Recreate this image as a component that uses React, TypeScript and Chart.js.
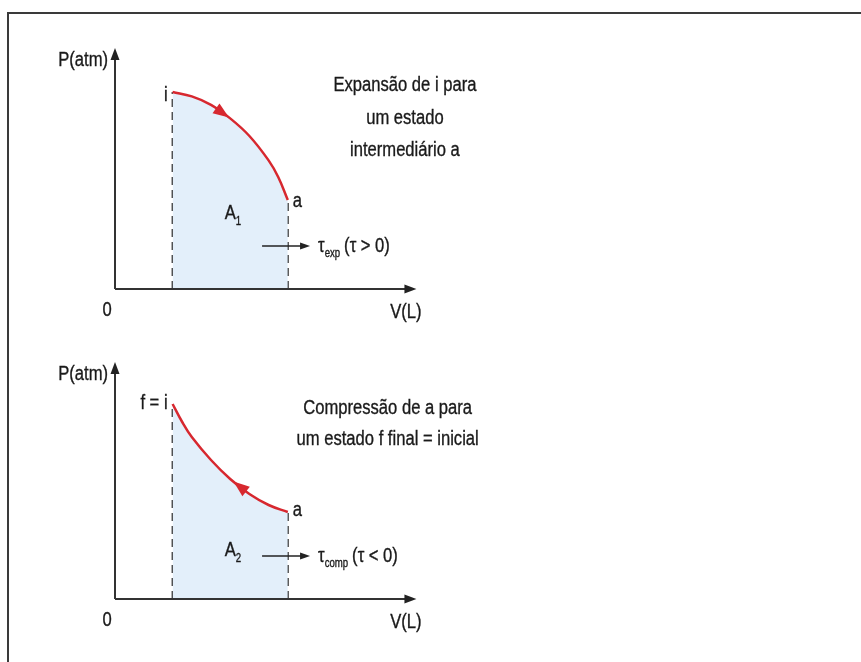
import React, { useEffect, useRef } from "react";
import { Chart, registerables } from "chart.js";

Chart.register(...registerables);

// ---- data (V in L, P in atm, arbitrary units) ----
const V_INITIAL = 3;
const V_INTERMEDIATE = 9;
const expansionV = [3, 4, 5, 6, 7, 8, 8.5, 9];
const expansionP = [9.85, 9.63, 9.21, 8.53, 7.65, 6.43, 5.6, 4.45];
const compressionV = [3, 3.5, 4, 5, 6, 7, 8, 9];
const compressionP = [9.75, 8.85, 8.1, 6.95, 6.0, 5.25, 4.7, 4.35];
const workArrowV = [7.66, 10.16];
const workArrowP = 2.15;
const topDescription = ["Expansão de i para", "um estado", "intermediário a"];
const bottomDescription = ["Compressão de a para", "um estado f final = inicial"];

const V_MAX = 16;
const P_MAX = 13;
const RED = "#d7282f";
const FILL = "#e3effa";
const INK = "#1a1a1a";
const FONT = '"Liberation Sans", Arial, sans-serif';

type Panel = {
  V: number[];
  P: number[];
  padTop: number;
  padBottom: number;
  pAxisTop: number;
  arrowV: number;
  arrowDir: number;
  startLabel: string;
  areaSub: string;
  areaPos: [number, number];
  tauSub: string;
  tauRel: string;
  desc: string[];
  descV: number;
  descP: number[];
  aLabelDy: number;
  startDy: number;
};

const panels: Panel[] = [
  {
    V: expansionV,
    P: expansionP,
    padTop: 29,
    padBottom: 42,
    pAxisTop: 12.05,
    arrowV: 5.6,
    arrowDir: 1,
    startLabel: "i",
    areaSub: "1",
    areaPos: [6.0, 3.8],
    tauSub: "exp",
    tauRel: "(τ > 0)",
    desc: topDescription,
    descV: 15.1,
    descP: [10.2, 8.55, 6.95],
    aLabelDy: 1,
    startDy: 3,
  },
  {
    V: compressionV,
    P: compressionP,
    padTop: 8,
    padBottom: 63,
    pAxisTop: 11.85,
    arrowV: 6.5,
    arrowDir: -1,
    startLabel: "f = i",
    areaSub: "2",
    areaPos: [6.0, 2.45],
    tauSub: "comp",
    tauRel: "(τ < 0)",
    desc: bottomDescription,
    descV: 14.2,
    descP: [9.55, 8.0],
    aLabelDy: -2,
    startDy: -1,
  },
];

function drawText(
  ctx: CanvasRenderingContext2D,
  text: string,
  x: number,
  y: number,
  size: number,
  align: "left" | "center" | "right",
  sx = 0.83
) {
  ctx.save();
  ctx.font = `${size}px ${FONT}`;
  ctx.textBaseline = "middle";
  ctx.fillStyle = INK;
  ctx.strokeStyle = INK;
  ctx.lineWidth = 0.35;
  const w = ctx.measureText(text).width * sx;
  let left = x;
  if (align === "center") left = x - w / 2;
  else if (align === "right") left = x - w;
  ctx.translate(left, y);
  ctx.scale(sx, 1);
  ctx.textAlign = "left";
  ctx.fillText(text, 0, 0);
  ctx.strokeText(text, 0, 0);
  ctx.restore();
  return w;
}

function arrowHead(
  ctx: CanvasRenderingContext2D,
  tipX: number,
  tipY: number,
  dx: number,
  dy: number,
  len: number,
  half: number,
  color: string
) {
  const n = Math.hypot(dx, dy) || 1;
  const ux = dx / n;
  const uy = dy / n;
  const bx = tipX - ux * len;
  const by = tipY - uy * len;
  ctx.save();
  ctx.fillStyle = color;
  ctx.beginPath();
  ctx.moveTo(tipX, tipY);
  ctx.lineTo(bx - uy * half, by + ux * half);
  ctx.lineTo(bx + uy * half, by - ux * half);
  ctx.closePath();
  ctx.fill();
  ctx.restore();
}

function interp(V: number[], P: number[], v: number) {
  for (let i = 0; i < V.length - 1; i++) {
    if (v >= V[i] && v <= V[i + 1]) {
      const t = (v - V[i]) / (V[i + 1] - V[i]);
      return P[i] + t * (P[i + 1] - P[i]);
    }
  }
  return P[P.length - 1];
}

function PanelChart({ panel, top }: { panel: Panel; top: number }) {
  const ref = useRef<HTMLCanvasElement | null>(null);
  useEffect(() => {
    if (!ref.current) return;
    const pStart = panel.P[0];
    const pEnd = panel.P[panel.P.length - 1];
    const overlay = {
      id: "overlay",
      afterDatasetsDraw(chart: any) {
        const ctx: CanvasRenderingContext2D = chart.ctx;
        const xs = chart.scales.x;
        const ys = chart.scales.y;
        const px = (v: number) => xs.getPixelForValue(v);
        const py = (p: number) => ys.getPixelForValue(p);
        const ox = px(0);
        const oy = py(0);
        // axes
        ctx.save();
        ctx.strokeStyle = "#333";
        ctx.lineWidth = 2;
        ctx.beginPath();
        ctx.moveTo(ox, oy);
        ctx.lineTo(ox, py(panel.pAxisTop) + 8);
        ctx.moveTo(ox, oy);
        ctx.lineTo(px(15.7) - 8, oy);
        ctx.stroke();
        ctx.restore();
        arrowHead(ctx, ox, py(panel.pAxisTop), 0, -1, 12, 4.5, "#222");
        arrowHead(ctx, px(15.7), oy, 1, 0, 12, 4.5, "#222");

        // arrow on curve
        const v0 = panel.arrowV;
        const ax = px(v0);
        const ay = py(interp(panel.V, panel.P, v0));
        const bx = px(v0 + 0.3 * panel.arrowDir);
        const by = py(interp(panel.V, panel.P, v0 + 0.3 * panel.arrowDir));
        const dx = bx - ax;
        const dy = by - ay;
        const n = Math.hypot(dx, dy);
        arrowHead(ctx, ax + (dx / n) * 8, ay + (dy / n) * 8, dx, dy, 16, 6, RED);

        // work arrow
        const wy = py(workArrowP);
        const wx0 = px(workArrowV[0]);
        const wx1 = px(workArrowV[1]);
        ctx.save();
        ctx.strokeStyle = "#222";
        ctx.lineWidth = 1.5;
        ctx.beginPath();
        ctx.moveTo(wx0, wy);
        ctx.lineTo(wx1 - 6, wy);
        ctx.stroke();
        ctx.restore();
        arrowHead(ctx, wx1, wy, 1, 0, 10, 3.5, "#222");
        let tx = wx1 + 8;
        tx += drawText(ctx, "τ", tx, wy, 20, "left");
        tx += drawText(ctx, panel.tauSub, tx, wy + 8, 12, "left", 0.8);
        tx += 4;
        drawText(ctx, panel.tauRel, tx, wy, 20, "left");

        // labels
        drawText(ctx, "P(atm)", ox - 7, py(panel.pAxisTop) + 12, 20, "right");
        drawText(ctx, "0", ox - 8, oy + 21, 20, "center");
        drawText(ctx, "V(L)", px(15.15), oy + 23, 20, "center");
        drawText(ctx, panel.startLabel, px(V_INITIAL) - 5, py(pStart) + panel.startDy, 20, "right");
        drawText(ctx, "a", px(V_INTERMEDIATE) + 5, py(pEnd) + panel.aLabelDy, 20, "left");
        const aw = drawText(ctx, "A", px(panel.areaPos[0]), py(panel.areaPos[1]), 20, "center");
        drawText(ctx, panel.areaSub, px(panel.areaPos[0]) + aw / 2, py(panel.areaPos[1]) + 9, 12, "left", 0.8);
        panel.desc.forEach((line, i) => {
          drawText(ctx, line, px(panel.descV), py(panel.descP[i]), 20, "center");
        });
      },
    };

    const chart = new Chart(ref.current, {
      type: "line",
      data: {
        datasets: [
          {
            data: panel.V.map((v, i) => ({ x: v, y: panel.P[i] })),
            borderColor: RED,
            borderWidth: 2.5,
            backgroundColor: FILL,
            fill: "origin",
            tension: 0.4,
            pointRadius: 0,
          },
          {
            data: [
              { x: V_INITIAL, y: 0 },
              { x: V_INITIAL, y: pStart },
            ],
            borderColor: "#333",
            borderWidth: 2,
            borderDash: [8, 5],
            pointRadius: 0,
            fill: false,
          },
          {
            data: [
              { x: V_INTERMEDIATE, y: 0 },
              { x: V_INTERMEDIATE, y: pEnd },
            ],
            borderColor: "#333",
            borderWidth: 2,
            borderDash: [8, 5],
            pointRadius: 0,
            fill: false,
          },
        ],
      } as any,
      options: {
        animation: false,
        responsive: false,
        devicePixelRatio: 1,
        layout: {
          padding: {
            left: 115,
            right: 861 - 115 - V_MAX * 19.2,
            top: panel.padTop,
            bottom: panel.padBottom,
          },
        },
        scales: {
          x: { type: "linear", min: 0, max: V_MAX, display: false },
          y: { type: "linear", min: 0, max: P_MAX, display: false },
        },
        plugins: {
          legend: { display: false },
          tooltip: { enabled: false },
        },
        events: [],
      },
      plugins: [overlay],
    } as any);
    return () => chart.destroy();
  }, [panel]);
  return (
    <canvas
      ref={ref}
      width={861}
      height={331}
      style={{ position: "absolute", left: 0, top, width: 861, height: 331 }}
    />
  );
}

export default function App() {
  return (
    <div
      style={{
        position: "absolute",
        left: 0,
        top: 0,
        width: 861,
        height: 662,
        overflow: "hidden",
        background: "#fff",
      }}
    >
      <div
        style={{
          position: "absolute",
          left: 7,
          top: 12,
          width: 900,
          height: 700,
          borderTop: "2px solid #3a3a3a",
          borderLeft: "2px solid #3a3a3a",
        }}
      />
      <PanelChart panel={panels[0]} top={0} />
      <PanelChart panel={panels[1]} top={331} />
    </div>
  );
}
